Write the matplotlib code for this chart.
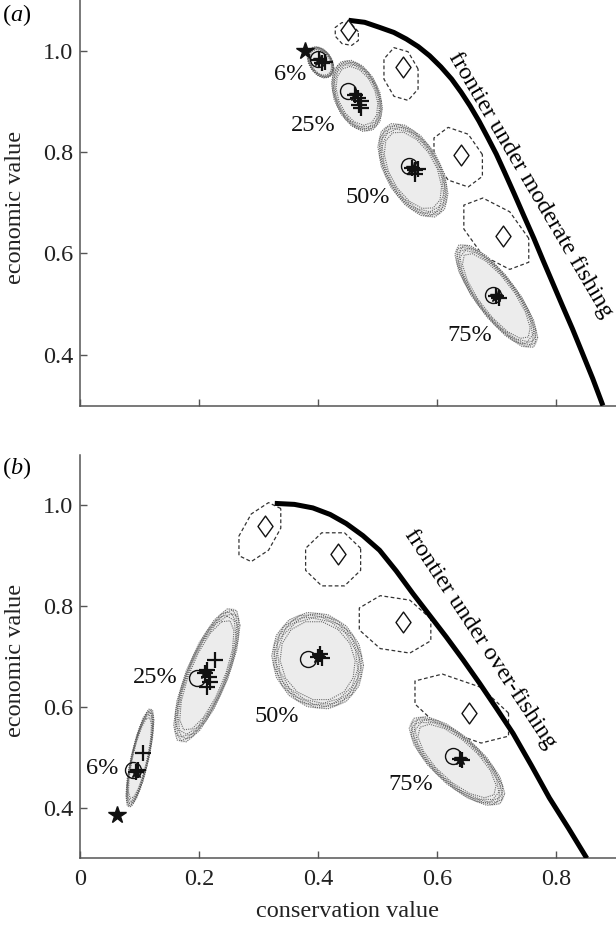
import numpy as np
import matplotlib.pyplot as plt
from matplotlib.path import Path

plt.rcParams['font.family'] = 'serif'
plt.rcParams['font.serif'] = ['Liberation Serif', 'DejaVu Serif']
plt.rcParams['mathtext.fontset'] = 'custom'
plt.rcParams['mathtext.rm'] = 'Liberation Serif'
plt.rcParams['mathtext.it'] = 'Liberation Serif:italic'

pct_labels = ['6%', '25%', '50%', '75%']

# ---- (a) moderate fishing ----
front_a_x = [0.451, 0.478, 0.503, 0.527, 0.548, 0.568, 0.587, 0.606, 0.624, 0.640, 0.655,
             0.670, 0.684, 0.699, 0.713, 0.729, 0.745, 0.762, 0.778, 0.794, 0.810, 0.827,
             0.843, 0.861, 0.878]
front_a_y = [1.060, 1.056, 1.046, 1.036, 1.023, 1.008, 0.990, 0.968, 0.944, 0.918, 0.891,
             0.861, 0.830, 0.796, 0.760, 0.718, 0.675, 0.630, 0.585, 0.541, 0.497, 0.451,
             0.405, 0.353, 0.300]
star_a = (0.377, 1.000)
circ_a_x = [0.400, 0.450, 0.553, 0.693]
circ_a_y = [0.984, 0.921, 0.772, 0.518]
plus_a_x = [[0.402, 0.407, 0.411], [0.461, 0.467, 0.471, 0.468, 0.472], [0.558, 0.563, 0.567, 0.562], [0.698, 0.703]]
plus_a_y = [[0.981, 0.976, 0.978], [0.912, 0.906, 0.900, 0.893, 0.886], [0.769, 0.764, 0.766, 0.756], [0.516, 0.512]]
# grey confidence regions: centre, x/y spread, correlation
reg_a_x = [0.404, 0.465, 0.559, 0.699]
reg_a_y = [0.977, 0.911, 0.764, 0.516]
reg_a_sx = [0.021, 0.040, 0.055, 0.065]
reg_a_sy = [0.029, 0.066, 0.087, 0.096]
reg_a_rho = [-0.35, -0.35, -0.5, -0.8]
# diamonds and their dashed regions
diam_a_x = [0.450, 0.542, 0.640, 0.711]
diam_a_y = [1.040, 0.967, 0.795, 0.634]
dash_a_x = [0.448, 0.539, 0.635, 0.699]
dash_a_y = [1.033, 0.954, 0.790, 0.639]
dash_a_sx = [0.021, 0.031, 0.044, 0.059]
dash_a_sy = [0.023, 0.053, 0.059, 0.071]
dash_a_rho = [-0.2, -0.2, -0.3, -0.5]

# ---- (b) over-fishing ----
front_b_x = [0.327, 0.360, 0.391, 0.420, 0.447, 0.475, 0.503, 0.531, 0.559, 0.587, 0.615,
             0.643, 0.671, 0.699, 0.727, 0.758, 0.788, 0.820, 0.851]
front_b_y = [1.004, 1.002, 0.995, 0.982, 0.964, 0.940, 0.911, 0.870, 0.825, 0.782, 0.739,
             0.694, 0.647, 0.598, 0.548, 0.484, 0.420, 0.360, 0.300]
star_b = (0.0615, 0.386)
circ_b_x = [0.089, 0.196, 0.383, 0.626]
circ_b_y = [0.475, 0.657, 0.696, 0.502]
plus_b_x = [[0.094, 0.098, 0.106], [0.210, 0.213, 0.216, 0.219, 0.226, 0.214], [0.399, 0.403, 0.406], [0.638, 0.642]]
plus_b_y = [[0.472, 0.476, 0.508], [0.668, 0.673, 0.660, 0.650, 0.693, 0.640], [0.700, 0.706, 0.697], [0.497, 0.494]]
reg_b_x = [0.1006, 0.213, 0.399, 0.633]
reg_b_y = [0.499, 0.663, 0.692, 0.493]
reg_b_sx = [0.022, 0.052, 0.072, 0.075]
reg_b_sy = [0.092, 0.125, 0.090, 0.083]
reg_b_rho = [0.76, 0.74, -0.1, -0.73]
diam_b_x = [0.310, 0.433, 0.542, 0.654]
diam_b_y = [0.960, 0.904, 0.769, 0.588]
dash_b_x = [0.302, 0.425, 0.529, 0.641]
dash_b_y = [0.947, 0.893, 0.764, 0.597]
dash_b_sx = [0.038, 0.050, 0.065, 0.085]
dash_b_sy = [0.059, 0.057, 0.058, 0.069]
dash_b_rho = [0.5, 0.0, -0.2, -0.5]

FS = 17.5
diamond = Path([(0, 1), (0.72, 0), (0, -1), (-0.72, 0), (0, 1)],
               [Path.MOVETO, Path.LINETO, Path.LINETO, Path.LINETO, Path.CLOSEPOLY])


def cov_outline(cx, cy, sx, sy, rho, n=80, scale=1.0, phase=0.0):
    t = np.linspace(0, 2 * np.pi, n + 1) + phase
    u, v = np.cos(t), np.sin(t)
    x = cx + scale * sx * u
    y = cy + scale * sy * (rho * u + np.sqrt(1 - rho ** 2) * v)
    return x, y


def draw_panel(ax, d, lab_pos, front_txt, txt_pos, txt_rot):
    # dashed regions
    for i in range(4):
        x, y = cov_outline(d['dash_x'][i], d['dash_y'][i], d['dash_sx'][i],
                           d['dash_sy'][i], d['dash_rho'][i], n=8, phase=np.pi / 8)
        ax.plot(x, y, ls=(0, (3, 2)), color='#333333', lw=0.9, zorder=2)
        ax.plot(d['diam_x'][i], d['diam_y'][i], marker=diamond, ms=15, mfc='white',
                mec='#111111', mew=1.0, ls='none', zorder=6)
    # grey regions
    for i in range(4):
        args = (d['reg_x'][i], d['reg_y'][i], d['reg_sx'][i], d['reg_sy'][i], d['reg_rho'][i])
        x, y = cov_outline(*args, scale=1.07)
        ax.fill(x, y, color='#ececec', lw=0, zorder=3)
        for k, s in enumerate([1.07, 1.04, 1.01, 0.98, 0.94, 0.88]):
            x, y = cov_outline(*args, n=14, scale=s, phase=0.2 * k)
            ax.plot(x, y, ls=(0, (1, 1)), color='#555555', lw=0.8, alpha=0.85, zorder=4)
    # frontier
    ax.plot(d['front_x'], d['front_y'], color='black', lw=3.6,
            solid_capstyle='butt', solid_joinstyle='round', zorder=5)
    ax.text(txt_pos[0], txt_pos[1], front_txt, rotation=txt_rot, fontsize=FS,
            ha='center', va='center', rotation_mode='anchor', zorder=7)
    # points
    ax.plot(*d['star'], marker='*', ms=13, color='#111111', ls='none', zorder=6)
    for i in range(4):
        ax.plot(d['circ_x'][i], d['circ_y'][i], 'o', ms=11.5, mfc='none',
                mec='#111111', mew=1.0, zorder=6)
        ax.plot(d['plus_x'][i], d['plus_y'][i], '+', ms=12, mew=1.6,
                color='#111111', ls='none', zorder=6)
        ax.plot(d['plus_x'][i][0], d['plus_y'][i][0], '*', ms=9,
                color='#111111', zorder=6)
        ax.text(lab_pos[i][0], lab_pos[i][1], pct_labels[i], fontsize=FS,
                ha='center', va='center', color='#111111', zorder=7)

    ax.set_xlim(0, 0.9)
    ax.set_ylim(0.3, 1.1)
    for s in ['top', 'right']:
        ax.spines[s].set_visible(False)
    for s in ['left', 'bottom']:
        ax.spines[s].set_color('#555555')
        ax.spines[s].set_linewidth(1.1)
    ax.set_xticks([0, 0.2, 0.4, 0.6, 0.8])
    ax.set_xticklabels(['0', '0.2', '0.4', '0.6', '0.8'])
    ax.set_yticks([0.4, 0.6, 0.8, 1.0])
    ax.set_yticklabels(['0.4', '0.6', '0.8', '1.0'])
    ax.tick_params(direction='in', length=5, width=1, color='#555555',
                   labelsize=FS, labelcolor='#222222')
    ax.tick_params(axis='x', pad=8)
    ax.tick_params(axis='y', pad=5)


panel_a = dict(front_x=front_a_x, front_y=front_a_y, star=star_a,
               circ_x=circ_a_x, circ_y=circ_a_y, plus_x=plus_a_x, plus_y=plus_a_y,
               reg_x=reg_a_x, reg_y=reg_a_y, reg_sx=reg_a_sx, reg_sy=reg_a_sy, reg_rho=reg_a_rho,
               diam_x=diam_a_x, diam_y=diam_a_y, dash_x=dash_a_x, dash_y=dash_a_y,
               dash_sx=dash_a_sx, dash_sy=dash_a_sy, dash_rho=dash_a_rho)
panel_b = dict(front_x=front_b_x, front_y=front_b_y, star=star_b,
               circ_x=circ_b_x, circ_y=circ_b_y, plus_x=plus_b_x, plus_y=plus_b_y,
               reg_x=reg_b_x, reg_y=reg_b_y, reg_sx=reg_b_sx, reg_sy=reg_b_sy, reg_rho=reg_b_rho,
               diam_x=diam_b_x, diam_y=diam_b_y, dash_x=dash_b_x, dash_y=dash_b_y,
               dash_sx=dash_b_sx, dash_sy=dash_b_sy, dash_rho=dash_b_rho)

fig = plt.figure(figsize=(6.16, 9.31), dpi=100)
ax1 = fig.add_axes([0.1299, 0.5644, 0.8701, 0.4356])
ax2 = fig.add_axes([0.1299, 0.0781, 0.8701, 0.4332])

draw_panel(ax1, panel_a,
           [(0.353, 0.954), (0.391, 0.852), (0.483, 0.710), (0.655, 0.439)],
           'frontier under moderate fishing', (0.756, 0.736), -59.5)
draw_panel(ax2, panel_b,
           [(0.037, 0.479), (0.127, 0.658), (0.330, 0.581), (0.556, 0.446)],
           'frontier under over-fishing', (0.671, 0.735), -56.5)
ax1.tick_params(axis='x', labelbottom=False)

fig.text(16 / 616, 1 - 207 / 931, 'economic value', rotation=90, fontsize=FS,
         ha='center', va='center', color='#222222')
fig.text(16 / 616, 1 - 660 / 931, 'economic value', rotation=90, fontsize=FS,
         ha='center', va='center', color='#222222')
fig.text(348 / 616, 1 - 917 / 931, 'conservation value', fontsize=FS,
         ha='center', va='baseline', color='#222222')
fig.text(2 / 616, 1 - 15 / 931, r'($\mathit{a}$)', fontsize=FS, ha='left', va='center')
fig.text(2 / 616, 1 - 468 / 931, r'($\mathit{b}$)', fontsize=FS, ha='left', va='center')

fig.savefig('out.png', dpi=100)
